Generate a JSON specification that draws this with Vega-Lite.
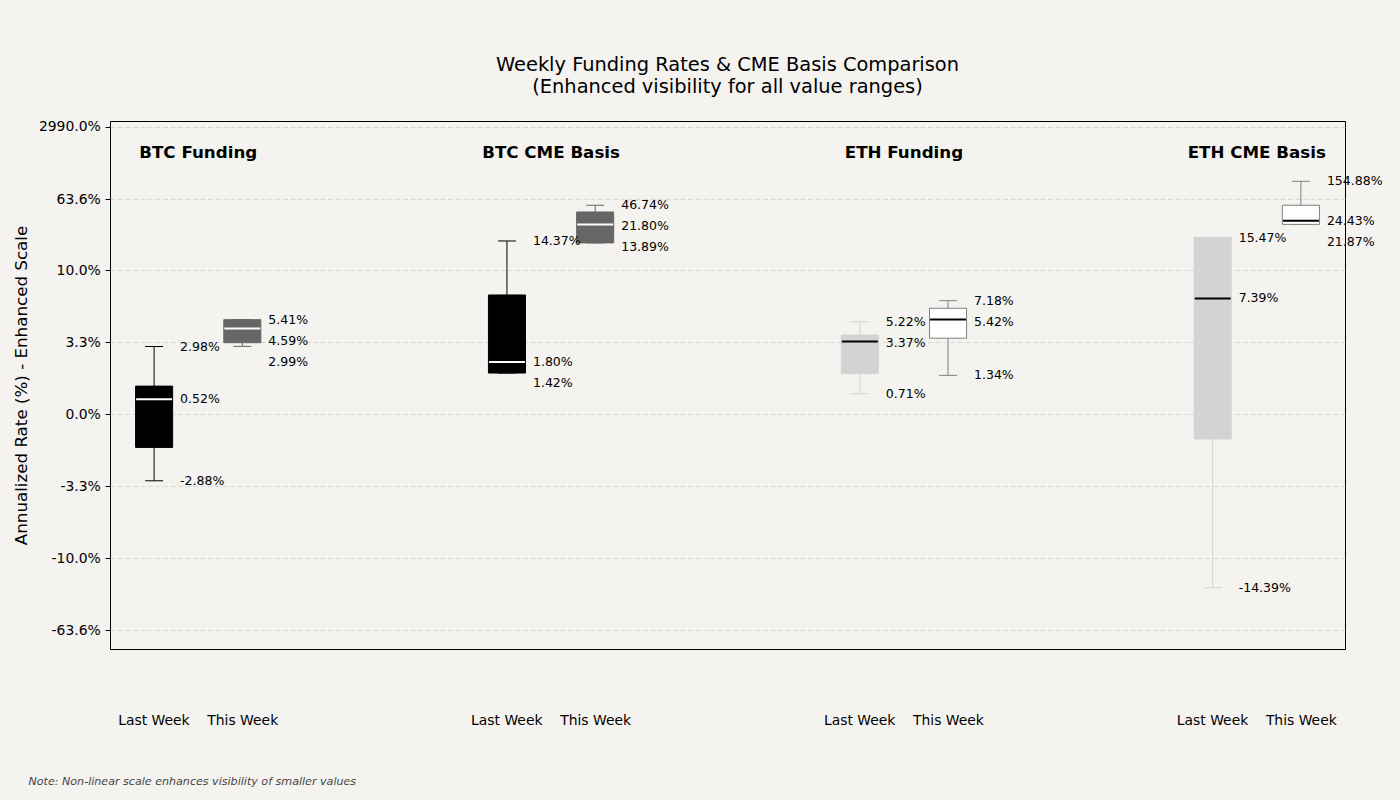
{
  "$schema": "https://vega.github.io/schema/vega-lite/v6.json",
  "width": 1235,
  "height": 528,
  "autosize": {"type": "none"},
  "padding": {"left": 110, "top": 121, "right": 55, "bottom": 151},
  "background": "#f4f3ef",
  "config": {
    "font": "DejaVu Sans",
    "view": {"stroke": "#000000", "strokeWidth": 1}
  },
  "title": {
    "text": ["Weekly Funding Rates & CME Basis Comparison", "(Enhanced visibility for all value ranges)"],
    "fontSize": 19.4,
    "fontWeight": "normal",
    "color": "#000000",
    "anchor": "middle",
    "lineHeight": 22,
    "offset": 22
  },
  "data": {
    "values": [
      {"metric": "BTC Funding", "week": "Last Week", "series": "BTC Last Week", "min": -2.88, "q1": -1.14, "median": 0.52, "q3": 0.97, "max": 2.98},
      {"metric": "BTC Funding", "week": "This Week", "series": "BTC This Week", "min": 2.99, "q1": 3.27, "median": 4.59, "q3": 5.41, "max": 5.41},
      {"metric": "BTC CME Basis", "week": "Last Week", "series": "BTC Last Week", "min": 1.42, "q1": 1.42, "median": 1.80, "q3": 7.71, "max": 14.37},
      {"metric": "BTC CME Basis", "week": "This Week", "series": "BTC This Week", "min": 13.89, "q1": 13.89, "median": 21.80, "q3": 36.8, "max": 46.74},
      {"metric": "ETH Funding", "week": "Last Week", "series": "ETH Last Week", "min": 0.71, "q1": 1.40, "median": 3.37, "q3": 3.98, "max": 5.22},
      {"metric": "ETH Funding", "week": "This Week", "series": "ETH This Week", "min": 1.34, "q1": 3.68, "median": 5.42, "q3": 6.47, "max": 7.18},
      {"metric": "ETH CME Basis", "week": "Last Week", "series": "ETH Last Week", "min": -14.39, "q1": -0.85, "median": 7.39, "q3": 15.47, "max": 15.47},
      {"metric": "ETH CME Basis", "week": "This Week", "series": "ETH This Week", "min": 21.87, "q1": 21.87, "median": 24.43, "q3": 46.8, "max": 154.88}
    ]
  },
  "encoding": {
    "x": {"field": "metric", "type": "nominal", "sort": ["BTC Funding", "BTC CME Basis", "ETH Funding", "ETH CME Basis"], "scale": {"paddingInner": 0.5, "paddingOuter": 0}, "axis": null},
    "xOffset": {"field": "week", "type": "nominal", "sort": ["Last Week", "This Week"], "scale": {"paddingInner": 0.58, "paddingOuter": 0.29}}
  },
  "resolve": {"axis": {"x": "independent"}, "scale": {"color": "independent"}},
  "layer": [
    {
      "mark": {"type": "rule", "strokeWidth": 1, "opacity": 1},
      "encoding": {
        "x": {"field": "metric", "type": "nominal", "sort": ["BTC Funding", "BTC CME Basis", "ETH Funding", "ETH CME Basis"], "scale": {"paddingInner": 0.5, "paddingOuter": 0},
          "axis": {"orient": "bottom", "labelExpr": "'Last Week\u00a0\u00a0\u00a0\u00a0This Week'", "labelFontSize": 13.9, "labelColor": "#000000", "labelPadding": 64, "ticks": false, "domain": false, "labelAngle": 0, "grid": false,
            "title": "Note: Non-linear scale enhances visibility of smaller values", "titleFontSize": 11.1, "titleFontStyle": "italic", "titleFontWeight": "normal", "titleColor": "#444444", "titleAnchor": "start", "titleAlign": "left", "titleX": -82, "titleY": 135, "titleBaseline": "alphabetic"}},
        "y": {"field": "min", "type": "quantitative", "title": "Annualized Rate (%) - Enhanced Scale",
          "scale": {"type": "linear", "zero": false, "nice": false,
            "domain": [-155, -63.6, -25, -22, -16, -14, -10, -3.3, -1.8, 0, 1.8, 3.3, 10, 14, 16, 22, 25, 47, 63.6, 155, 2990, 3310],
            "range": [528, 509.2, 487.7, 483.5, 471.7, 465.5, 437.2, 365.3, 345.6, 293.3, 241.0, 221.3, 149.4, 121.1, 114.9, 103.1, 98.9, 84.1, 78.0, 60.3, 5.6, 0]},
          "axis": {"values": [-63.6, -10, -3.3, 0, 3.3, 10, 63.6, 2990], "labelExpr": "(datum.value < 0 ? '-' : '') + format(abs(datum.value), '.1f') + '%'",
            "titleFontSize": 16.7, "titleFontWeight": "normal", "titleColor": "#000000", "titlePadding": 8,
            "labelFontSize": 13.9, "labelColor": "#000000", "labelPadding": 4.9, "tickSize": 4.9, "tickColor": "#000000", "domain": false,
            "grid": true, "gridColor": "#d0d0d0", "gridDash": [5, 2.5], "gridWidth": 0.8, "labelFlush": false, "labelOverlap": false}},
        "y2": {"field": "max"},
        "stroke": {"field": "series", "type": "nominal", "scale": {"domain": ["BTC Last Week", "BTC This Week", "ETH Last Week", "ETH This Week"], "range": ["#000000", "#666666", "#d3d3d3", "#808080"]}, "legend": null}
      }
    },
    {
      "mark": {"type": "tick", "size": 18, "thickness": 1, "opacity": 1},
      "encoding": {
        "x": {"field": "metric", "type": "nominal", "sort": ["BTC Funding", "BTC CME Basis", "ETH Funding", "ETH CME Basis"], "scale": {"paddingInner": 0.5, "paddingOuter": 0},
          "axis": {"orient": "top", "labelFontSize": 16.7, "labelFontWeight": "bold", "labelColor": "#000000", "labelPadding": -31, "labelBaseline": "middle", "ticks": false, "domain": false, "title": null, "labelAngle": 0, "grid": false}},
        "y": {"field": "max", "type": "quantitative", "title": "Annualized Rate (%) - Enhanced Scale"},
        "color": {"field": "series", "type": "nominal", "scale": {"domain": ["BTC Last Week", "BTC This Week", "ETH Last Week", "ETH This Week"], "range": ["#000000", "#666666", "#d3d3d3", "#808080"]}, "legend": null}
      }
    },
    {
      "mark": {"type": "tick", "size": 18, "thickness": 1, "opacity": 1},
      "encoding": {
        "y": {"field": "min", "type": "quantitative", "title": "Annualized Rate (%) - Enhanced Scale"},
        "color": {"field": "series", "type": "nominal", "scale": {"domain": ["BTC Last Week", "BTC This Week", "ETH Last Week", "ETH This Week"], "range": ["#000000", "#666666", "#d3d3d3", "#808080"]}, "legend": null}
      }
    },
    {
      "mark": {"type": "bar", "strokeWidth": 1, "opacity": 1},
      "encoding": {
        "y": {"field": "q1", "type": "quantitative", "title": "Annualized Rate (%) - Enhanced Scale"},
        "y2": {"field": "q3"},
        "fill": {"field": "series", "type": "nominal", "scale": {"domain": ["BTC Last Week", "BTC This Week", "ETH Last Week", "ETH This Week"], "range": ["#000000", "#666666", "#d3d3d3", "#ffffff"]}, "legend": null},
        "stroke": {"field": "series", "type": "nominal", "legend": null}
      }
    },
    {
      "mark": {"type": "tick", "size": 36, "thickness": 2, "opacity": 1},
      "encoding": {
        "y": {"field": "median", "type": "quantitative", "title": "Annualized Rate (%) - Enhanced Scale"},
        "color": {"field": "series", "type": "nominal", "scale": {"domain": ["BTC Last Week", "BTC This Week", "ETH Last Week", "ETH This Week"], "range": ["#ffffff", "#ffffff", "#000000", "#000000"]}, "legend": null}
      }
    },
    {
      "mark": {"type": "text", "align": "left", "baseline": "middle", "dx": 26, "fontSize": 12.5, "color": "#000000",
        "text": {"expr": "(datum.max < 0 ? '-' : '') + format(abs(datum.max), '.2f') + '%'"}},
      "encoding": {
        "y": {"field": "max", "type": "quantitative", "title": "Annualized Rate (%) - Enhanced Scale"}
      }
    },
    {
      "mark": {"type": "text", "align": "left", "baseline": "middle", "dx": 26, "fontSize": 12.5, "color": "#000000",
        "text": {"expr": "(datum.median < 0 ? '-' : '') + format(abs(datum.median), '.2f') + '%'"},
        "dy": {"expr": "max(0, scale('y', datum.max) + 21 - scale('y', datum.median))"}},
      "encoding": {
        "y": {"field": "median", "type": "quantitative", "title": "Annualized Rate (%) - Enhanced Scale"}
      }
    },
    {
      "mark": {"type": "text", "align": "left", "baseline": "middle", "dx": 26, "fontSize": 12.5, "color": "#000000",
        "text": {"expr": "(datum.min < 0 ? '-' : '') + format(abs(datum.min), '.2f') + '%'"},
        "dy": {"expr": "max(0, max(scale('y', datum.median), scale('y', datum.max) + 21) + 21 - scale('y', datum.min))"}},
      "encoding": {
        "y": {"field": "min", "type": "quantitative", "title": "Annualized Rate (%) - Enhanced Scale"}
      }
    }
  ]
}
